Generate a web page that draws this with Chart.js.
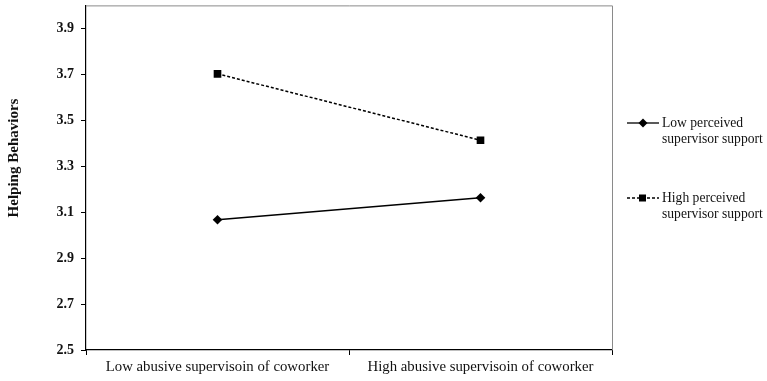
<!DOCTYPE html>
<html>
<head>
<meta charset="utf-8">
<script src="https://cdn.jsdelivr.net/npm/chart.js@4"></script>
<style>
  html, body { margin: 0; padding: 0; background: #fff; }
  #wrap { width: 767px; height: 381px; }
</style>
</head>
<body>
<div id="wrap"><canvas id="chart" width="767" height="381"></canvas></div>
<script>
// Data
const categories = ['Low abusive supervisoin of coworker', 'High abusive supervisoin of coworker'];
const lowSupport = [3.067, 3.163];
const highSupport = [3.702, 3.413];
const seriesNames = [['Low perceived', 'supervisor support'], ['High perceived', 'supervisor support']];
const yTicks = [2.5, 2.7, 2.9, 3.1, 3.3, 3.5, 3.7, 3.9];
const yTitle = 'Helping Behaviors';

const FONT = '"Liberation Serif", "Times New Roman", serif';

// box round the plot, y title and legend on the right
const framePlugin = {
    id: 'frame',
    afterDraw(chart) {
        const ctx = chart.ctx;
        const a = chart.chartArea;
        ctx.save();
        ctx.strokeStyle = '#8a8a8a';
        ctx.lineWidth = 1;
        ctx.beginPath();
        ctx.moveTo(a.left, a.top + 0.5);
        ctx.lineTo(a.right + 0.5, a.top + 0.5);
        ctx.lineTo(a.right + 0.5, a.bottom);
        ctx.stroke();

        // y title, sits a bit above the middle like the original
        ctx.save();
        ctx.translate(14, 158);
        ctx.rotate(-Math.PI / 2);
        ctx.font = 'bold 15px ' + FONT;
        ctx.fillStyle = '#111';
        ctx.textAlign = 'center';
        ctx.textBaseline = 'middle';
        ctx.fillText(yTitle, 0, 0);
        ctx.restore();

        // legend
        const rows = [123, 198];
        chart.data.datasets.forEach(function(ds, i) {
            const y = rows[i];
            ctx.strokeStyle = '#000';
            ctx.lineWidth = 1.3;
            ctx.setLineDash(ds.borderDash || []);
            ctx.beginPath();
            ctx.moveTo(627, y);
            ctx.lineTo(659, y);
            ctx.stroke();
            ctx.setLineDash([]);
            ctx.fillStyle = '#000';
            ctx.beginPath();
            if (ds.pointStyle === 'rect') {
                ctx.fillRect(639, y - 3.5, 7, 7);
            } else {
                ctx.moveTo(643, y - 4.5);
                ctx.lineTo(647.5, y);
                ctx.lineTo(643, y + 4.5);
                ctx.lineTo(638.5, y);
                ctx.closePath();
                ctx.fill();
            }
            ctx.font = '13.6px ' + FONT;
            ctx.textBaseline = 'middle';
            ctx.textAlign = 'left';
            ctx.fillStyle = '#111';
            seriesNames[i].forEach(function(t, k) {
                ctx.fillText(t, 662, y + k * 16);
            });
        });
        ctx.restore();
    }
};

new Chart(document.getElementById('chart'), {
    type: 'line',
    data: {
        labels: categories,
        datasets: [
            {
                label: seriesNames[0].join(' '),
                data: lowSupport,
                borderColor: '#000',
                backgroundColor: '#000',
                borderWidth: 1.5,
                pointStyle: 'rectRot',
                pointRadius: 4.8,
                pointBorderWidth: 0,
                tension: 0,
            },
            {
                label: seriesNames[1].join(' '),
                data: highSupport,
                borderColor: '#000',
                backgroundColor: '#000',
                borderWidth: 1.5,
                borderDash: [3, 2],
                pointStyle: 'rect',
                pointRadius: 5.4,
                pointBorderWidth: 0,
                tension: 0,
            },
        ],
    },
    options: {
        responsive: false,
        animation: false,
        layout: { padding: { left: 0, right: 155, top: 4, bottom: 0 } },
        plugins: {
            legend: { display: false },
            tooltip: { enabled: false },
        },
        scales: {
            x: {
                offset: true,
                grid: {
                    offset: true,
                    drawOnChartArea: false,
                    drawTicks: true,
                    tickLength: 5,
                    color: '#000',
                },
                border: { color: '#000', width: 1.2 },
                ticks: {
                    color: '#111',
                    font: { family: FONT, size: 14.8 },
                    padding: 3,
                    maxRotation: 0,
                },
                afterFit: function(scale) {
                    scale.height = 31;
                    scale.paddingLeft = 0;
                    scale.paddingRight = 0;
                },
            },
            y: {
                min: 2.5,
                max: 4.0,
                afterBuildTicks: function(scale) {
                    scale.ticks = yTicks.map(function(v) { return { value: v }; });
                },
                grid: {
                    drawOnChartArea: false,
                    drawTicks: true,
                    tickLength: 5,
                    color: '#000',
                },
                border: { color: '#000', width: 1.2 },
                ticks: {
                    color: '#111',
                    font: { family: FONT, size: 14, weight: 'bold' },
                    padding: 7,
                    callback: function(v) { return v.toFixed(1); },
                },
                afterFit: function(scale) {
                    scale.width = 86;
                    scale.paddingTop = 0;
                    scale.paddingBottom = 0;
                },
            },
        },
    },
    plugins: [framePlugin],
});
</script>
</body>
</html>
